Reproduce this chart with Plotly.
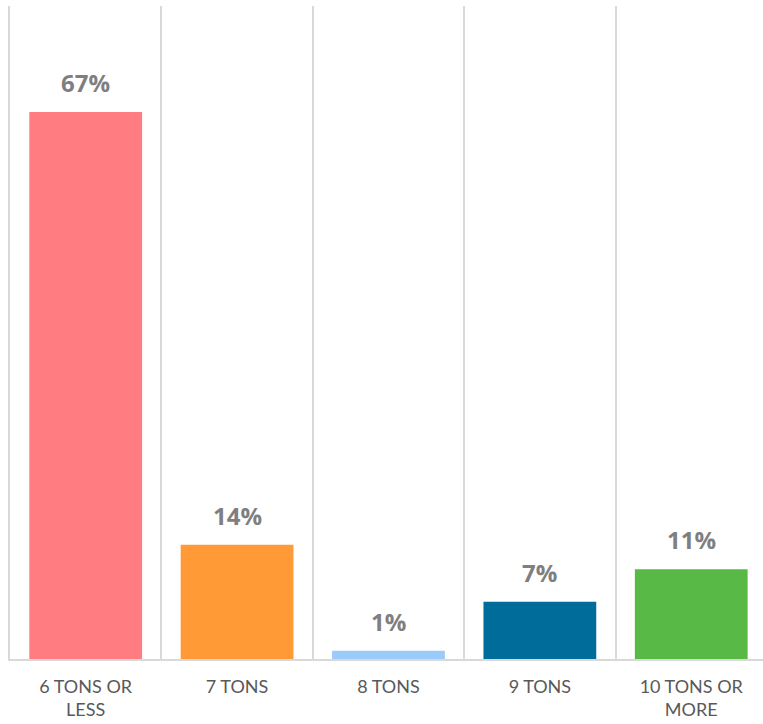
import plotly.graph_objects as go

categories = ["6 TONS OR<br>LESS", "7 TONS", "8 TONS", "9 TONS", "10 TONS OR<br>MORE"]
values = [67, 14, 1, 7, 11]
labels = ["67%", "14%", "1%", "7%", "11%"]
colors = ["#FF7C80", "#FF9A37", "#9ACBFA", "#006C9A", "#59B947"]

fig = go.Figure()
fig.add_trace(go.Bar(
    x=categories, y=values,
    marker=dict(color=colors, line=dict(width=0)),
    hoverinfo="skip",
))

for c, v, t in zip(categories, values, labels):
    fig.add_annotation(
        x=c, y=v, text=t, showarrow=False, yanchor="bottom", yshift=11,
        font=dict(family="Open Sans", size=24, color="#7F7F7F", weight="bold"),
    )

fig.update_layout(
    width=763, height=724,
    margin=dict(l=10, r=0, t=6, b=65),
    paper_bgcolor="white", plot_bgcolor="white",
    bargap=0.255,
    showlegend=False,
    xaxis=dict(
        type="category",
        range=[-0.5, 4.474],
        tickson="boundaries",
        showgrid=True, gridcolor="#D9D9D9", gridwidth=2,
        showline=True, linecolor="#D9D9D9", linewidth=2,
        ticks="",
        tickfont=dict(family="Lato", size=18, color="#595959"),
        ticklabelstandoff=10,
    ),
    yaxis=dict(
        range=[0, 80],
        showgrid=False, showticklabels=False, zeroline=False,
        showline=True, linecolor="#D9D9D9", linewidth=2,
    ),
)

fig.write_html("out.html")
